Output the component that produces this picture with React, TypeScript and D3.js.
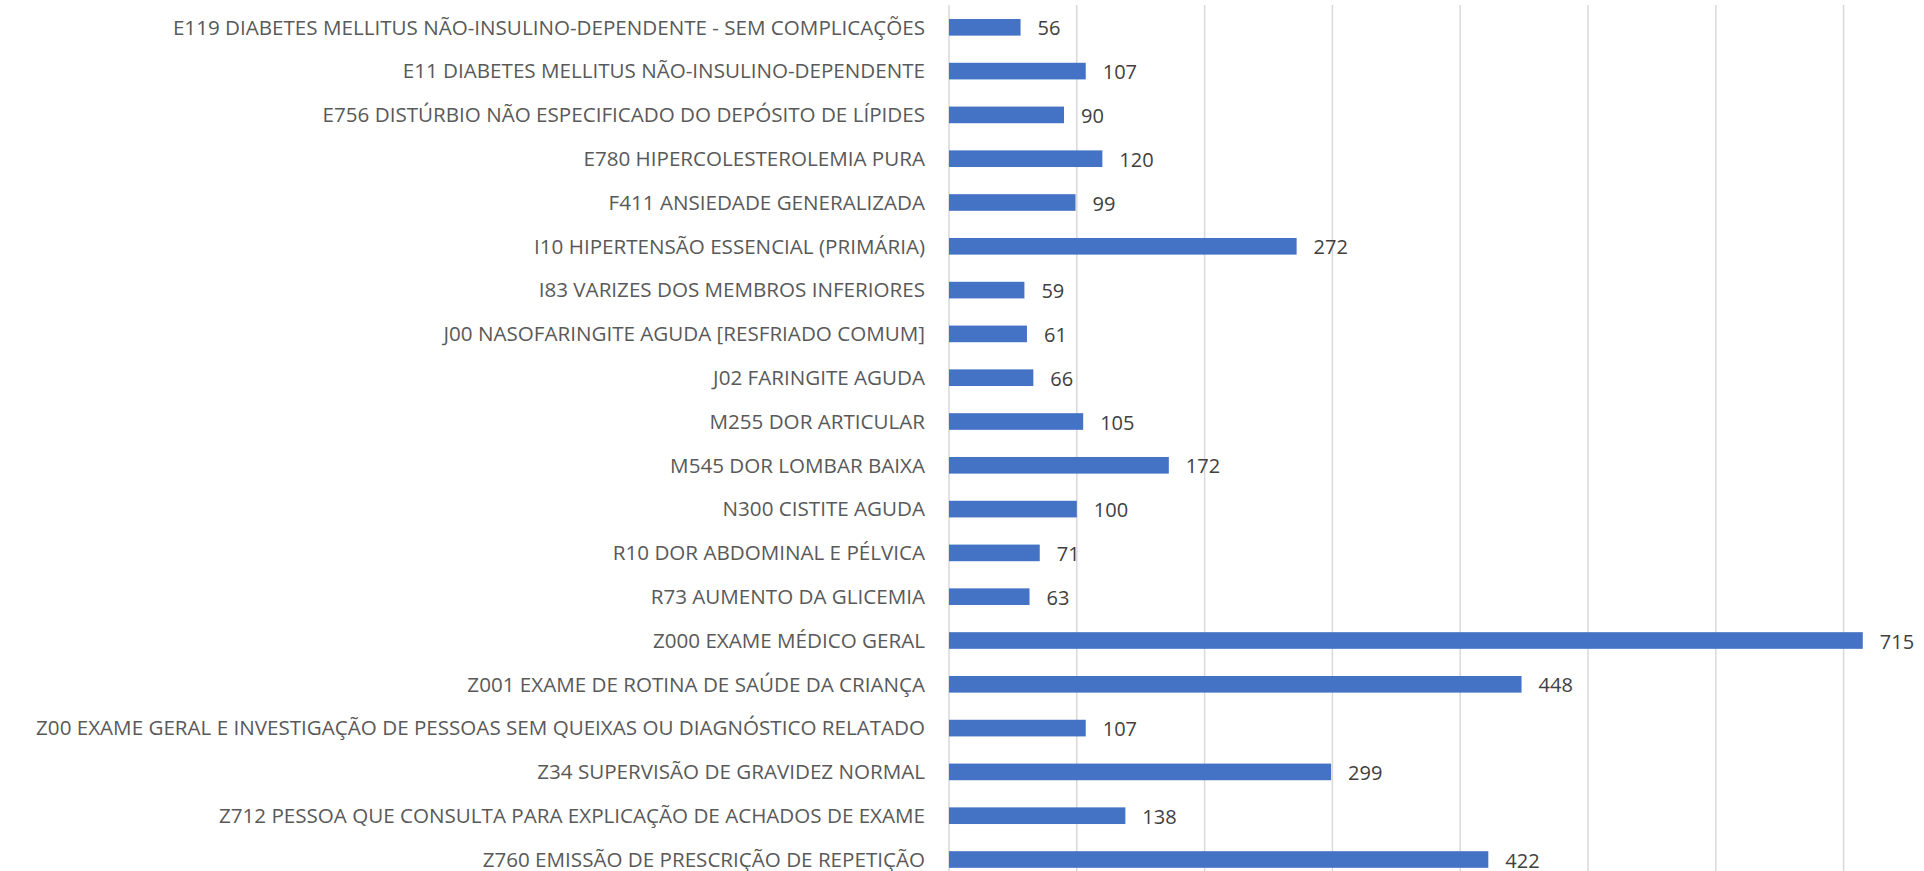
import React from "react";
import * as d3 from "d3";

const categories = [
  "E119 DIABETES MELLITUS NÃO-INSULINO-DEPENDENTE - SEM COMPLICAÇÕES",
  "E11 DIABETES MELLITUS NÃO-INSULINO-DEPENDENTE",
  "E756 DISTÚRBIO NÃO ESPECIFICADO DO DEPÓSITO DE LÍPIDES",
  "E780 HIPERCOLESTEROLEMIA PURA",
  "F411 ANSIEDADE GENERALIZADA",
  "I10 HIPERTENSÃO ESSENCIAL (PRIMÁRIA)",
  "I83 VARIZES DOS MEMBROS INFERIORES",
  "J00 NASOFARINGITE AGUDA [RESFRIADO COMUM]",
  "J02 FARINGITE AGUDA",
  "M255 DOR ARTICULAR",
  "M545 DOR LOMBAR BAIXA",
  "N300 CISTITE AGUDA",
  "R10 DOR ABDOMINAL E PÉLVICA",
  "R73 AUMENTO DA GLICEMIA",
  "Z000 EXAME MÉDICO GERAL",
  "Z001 EXAME DE ROTINA DE SAÚDE DA CRIANÇA",
  "Z00 EXAME GERAL E INVESTIGAÇÃO DE PESSOAS SEM QUEIXAS OU DIAGNÓSTICO RELATADO",
  "Z34 SUPERVISÃO DE GRAVIDEZ NORMAL",
  "Z712 PESSOA QUE CONSULTA PARA EXPLICAÇÃO DE ACHADOS DE EXAME",
  "Z760 EMISSÃO DE PRESCRIÇÃO DE REPETIÇÃO",
];

const values = [56, 107, 90, 120, 99, 272, 59, 61, 66, 105, 172, 100, 71, 63, 715, 448, 107, 299, 138, 422];

const gridTicks = [0, 100, 200, 300, 400, 500, 600, 700];

const W = 1924;
const H = 871;

export default function App() {
  const x = d3.scaleLinear().domain([0, 800]).range([949, 949 + 1022.4]);
  const y = d3
    .scaleBand<string>()
    .domain(categories)
    .range([5.4, 5.4 + categories.length * 43.8])
    .paddingInner(0.62)
    .paddingOuter(0.31);

  const font = "'Open Sans', sans-serif";

  return (
    <svg
      width={W}
      height={H}
      style={{ position: "absolute", left: 0, top: 0, background: "#fff" }}
    >
      {/* gridlines */}
      {gridTicks.map((t) => (
        <line
          key={t}
          x1={x(t)}
          x2={x(t)}
          y1={5}
          y2={H}
          stroke="#d9d9d9"
          strokeWidth={1.5}
        />
      ))}

      {/* bars */}
      {categories.map((c, i) => (
        <rect
          key={c}
          x={x(0)}
          y={y(c)}
          width={x(values[i]) - x(0)}
          height={y.bandwidth()}
          fill="#4472C4"
        />
      ))}

      {/* category labels */}
      {categories.map((c) => (
        <text
          key={c}
          x={925}
          y={(y(c) ?? 0) + y.bandwidth() / 2}
          dy="0.35em"
          textAnchor="end"
          fontFamily={font}
          fontSize={20.6}
          fill="#595959"
        >
          {c}
        </text>
      ))}

      {/* value labels */}
      {categories.map((c, i) => (
        <text
          key={c}
          x={x(values[i]) + 17}
          y={(y(c) ?? 0) + y.bandwidth() / 2 + 1}
          dy="0.35em"
          fontFamily={font}
          fontSize={20}
          fill="#404040"
        >
          {values[i]}
        </text>
      ))}
    </svg>
  );
}
